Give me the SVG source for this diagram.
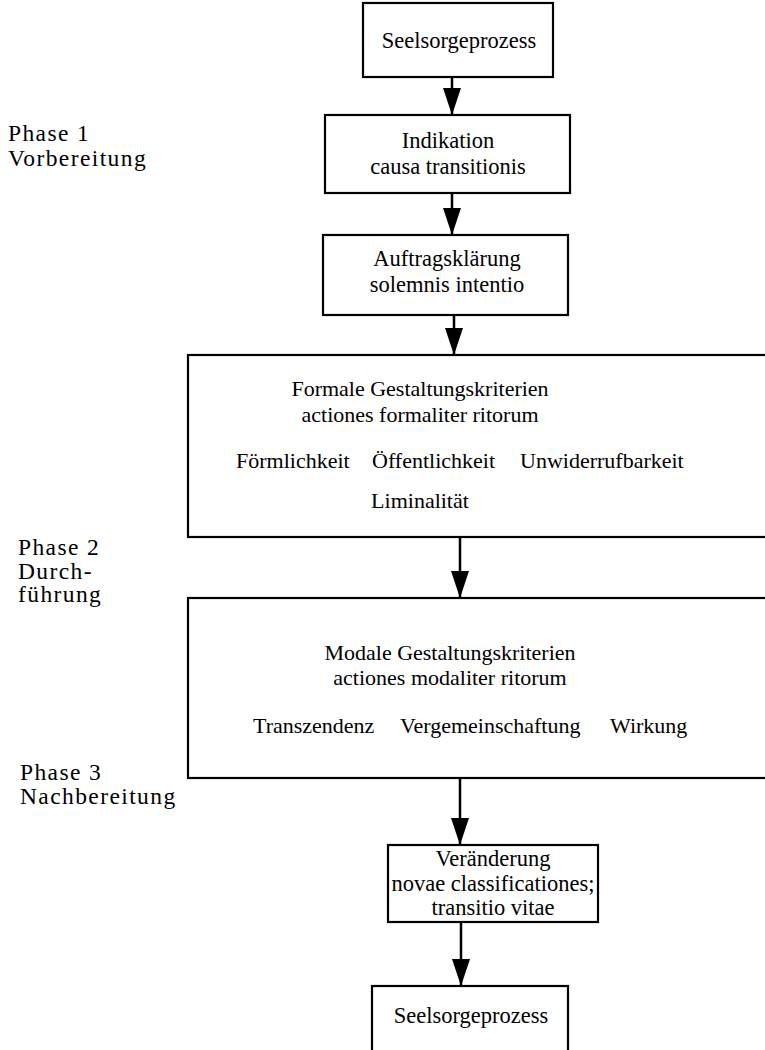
<svg xmlns="http://www.w3.org/2000/svg" width="765" height="1050" viewBox="0 0 765 1050">
<style>
.box{fill:#fff;stroke:#000;stroke-width:2.2}
.t{font-family:"Liberation Serif","Times New Roman",serif;font-size:22.5px;fill:#000;text-anchor:middle}
.m{font-family:"Liberation Serif","Times New Roman",serif;font-size:22px;fill:#000;text-anchor:middle}
.ts{font-family:"Liberation Serif","Times New Roman",serif;font-size:22px;fill:#000}
.ph{font-family:"Liberation Serif","Times New Roman",serif;font-size:23.5px;fill:#000;letter-spacing:1.4px}
.c{stroke:#000;stroke-width:2.5;fill:none}
</style>
<defs>
<marker id="ah" markerUnits="userSpaceOnUse" markerWidth="27" markerHeight="18" refX="27" refY="9" orient="auto" viewBox="0 0 27 18">
<path d="M0,0 L27,9 L0,18 Z" fill="#000"/>
</marker>
</defs>
<rect width="765" height="1050" fill="#fff"/>
<g id="labels">
<text class="ph" x="8" y="141">Phase 1</text>
<text class="ph" x="8" y="166">Vorbereitung</text>
<text class="ph" x="18" y="555">Phase 2</text>
<text class="ph" x="18" y="578.5">Durch-</text>
<text class="ph" x="18" y="602">führung</text>
<text class="ph" x="20" y="780">Phase 3</text>
<text class="ph" x="20" y="804">Nachbereitung</text>
</g>
<g id="connectors">
<line class="c" x1="452" y1="77" x2="452" y2="115" marker-end="url(#ah)"/>
<line class="c" x1="452" y1="193" x2="452" y2="235" marker-end="url(#ah)"/>
<line class="c" x1="454" y1="315" x2="454" y2="355" marker-end="url(#ah)"/>
<line class="c" x1="460" y1="537" x2="460" y2="598" marker-end="url(#ah)"/>
<line class="c" x1="460" y1="779" x2="460" y2="845" marker-end="url(#ah)"/>
<line class="c" x1="461" y1="922" x2="461" y2="986" marker-end="url(#ah)"/>
</g>
<g id="n1">
<rect class="box" x="363" y="3" width="190" height="74"/>
<text class="t" x="459" y="48">Seelsorgeprozess</text>
</g>
<g id="n2">
<rect class="box" x="325" y="115" width="245" height="78"/>
<text class="t" x="448" y="148">Indikation</text>
<text class="t" x="448" y="174">causa transitionis</text>
</g>
<g id="n3">
<rect class="box" x="323" y="235" width="245" height="80"/>
<text class="t" x="447" y="266">Auftragsklärung</text>
<text class="t" x="447" y="292">solemnis intentio</text>
</g>
<g id="n4">
<rect class="box" x="188" y="355" width="590" height="182"/>
<text class="m" x="420" y="396">Formale Gestaltungskriterien</text>
<text class="m" x="420" y="422">actiones formaliter ritorum</text>
<text class="ts" x="236" y="468">Förmlichkeit</text>
<text class="ts" x="372" y="468">Öffentlichkeit</text>
<text class="ts" x="520" y="468">Unwiderrufbarkeit</text>
<text class="m" x="420" y="508">Liminalität</text>
</g>
<g id="n5">
<rect class="box" x="188" y="598" width="590" height="180"/>
<text class="m" x="450" y="660">Modale Gestaltungskriterien</text>
<text class="m" x="450" y="685">actiones modaliter ritorum</text>
<text class="ts" x="253" y="733">Transzendenz</text>
<text class="ts" x="400" y="733">Vergemeinschaftung</text>
<text class="ts" x="610" y="733">Wirkung</text>
</g>
<g id="n6">
<rect class="box" x="388" y="845" width="210" height="77"/>
<text class="t" x="493" y="866">Veränderung</text>
<text class="t" x="493" y="891">novae classificationes;</text>
<text class="t" x="493" y="915">transitio vitae</text>
</g>
<g id="n7">
<rect class="box" x="372" y="986" width="196" height="80"/>
<text class="t" x="471" y="1023">Seelsorgeprozess</text>
</g>
</svg>
